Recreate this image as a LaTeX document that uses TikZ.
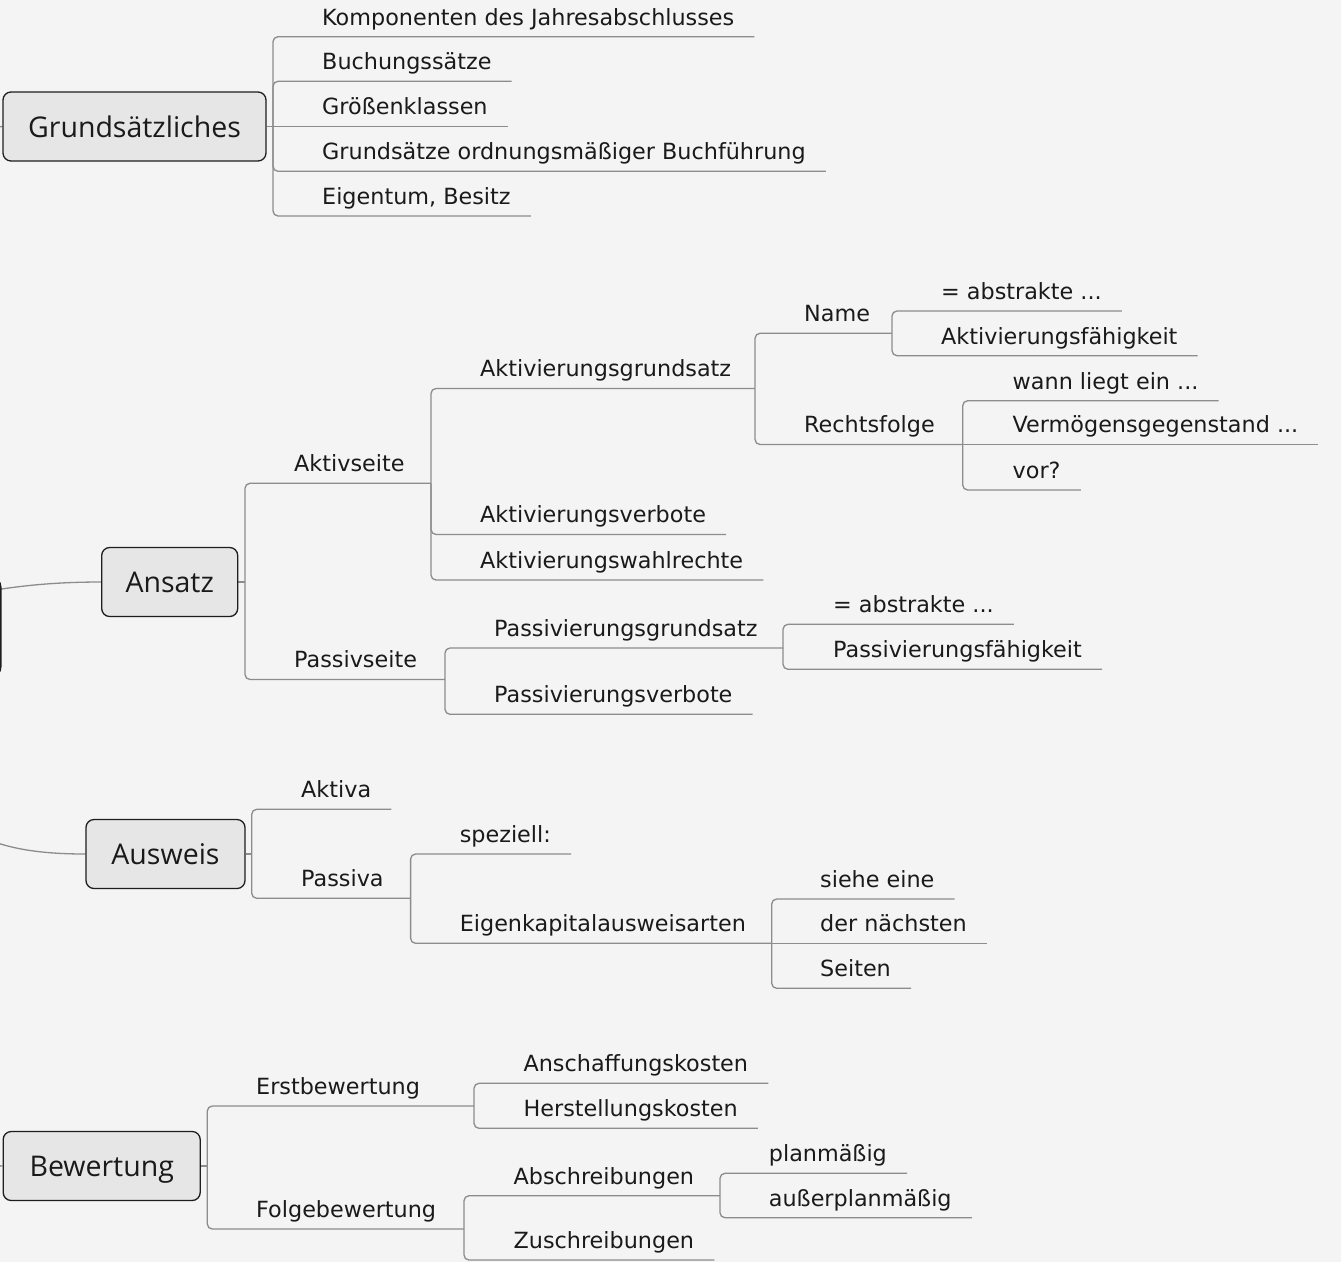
\documentclass[tikz,border=0pt]{standalone}
\usepackage{fontspec}
\newfontfamily\leaffont{DejaVu Sans}
\newfontfamily\topicfont{Open Sans}
\usetikzlibrary{backgrounds}
\definecolor{bgc}{HTML}{F4F4F4}
\definecolor{linec}{HTML}{8C8C8C}
\definecolor{boxfill}{HTML}{E6E6E6}
\definecolor{boxline}{HTML}{1E1E1E}
\definecolor{txt}{HTML}{1A1A1A}
\begin{document}
\begin{tikzpicture}[x=1pt,y=-1pt,
 leaf/.style={font=\leaffont\fontsize{22.3}{26}\selectfont, anchor=south west, inner xsep=20pt, inner ysep=0pt, text height=16pt, text depth=11.5pt, text=txt},
 topic/.style={font=\topicfont\fontsize{28.5}{32}\selectfont, draw=boxline, fill=boxfill, line width=1.3pt, rounded corners=8pt, inner sep=0pt, minimum height=69pt, text height=21pt, text depth=0pt, text=txt},
 conn/.style={draw=linec, line width=1.3pt},
 rc/.style={conn, rounded corners=5pt}]
\useasboundingbox (0,0) rectangle (1341,1262);

% topic boxes
\node[topic, minimum width=300pt, minimum height=100pt, rounded corners=10pt, anchor=east] (root) at (1.5,627) {};
\node[topic, minimum width=263pt] (gr) at (134.5,126.5) {Grundsätzliches};
\node[topic, minimum width=136pt] (an) at (169.7,582) {Ansatz};
\node[topic, minimum width=159pt] (aus) at (165.5,854) {Ausweis};
\node[topic, minimum width=197pt] (bw) at (101.7,1166) {Bewertung};

% Grundsaetzliches
\node[leaf] (k1) at (302,36.7) {Komponenten des Jahresabschlusses};
\node[leaf] (k2) at (302,81.3) {Buchungssätze};
\node[leaf] (k3) at (302,126.5) {Größenklassen};
\node[leaf] (k4) at (302,171.3) {Grundsätze ordnungsmäßiger Buchführung};
\node[leaf] (k5) at (302,216) {Eigentum, Besitz};

% Ansatz
\node[leaf] (akt) at (274,483.3) {Aktivseite};
\node[leaf] (pas) at (274,679.5) {Passivseite};
\node[leaf] (ag) at (460,388.5) {Aktivierungsgrundsatz};
\node[leaf] (av) at (460,534.5) {Aktivierungsverbote};
\node[leaf] (aw) at (460,580) {Aktivierungswahlrechte};
\node[leaf] (name) at (784,333.3) {Name};
\node[leaf] (rf) at (784,444.5) {Rechtsfolge};
\node[leaf] (n1) at (921,311) {= abstrakte ...};
\node[leaf] (n2) at (921,355.7) {Aktivierungsfähigkeit};
\node[leaf] (r1) at (992.5,400.7) {wann liegt ein ...};
\node[leaf] (r2) at (992.5,444.5) {Vermögensgegenstand ...};
\node[leaf] (r3) at (992.5,490) {vor?};
\node[leaf] (pg) at (474,648) {Passivierungsgrundsatz};
\node[leaf] (pv) at (474,714.3) {Passivierungsverbote};
\node[leaf] (p1) at (813,624.3) {= abstrakte ...};
\node[leaf] (p2) at (813,669.3) {Passivierungsfähigkeit};

% Ausweis
\node[leaf] (aa) at (281,809.3) {Aktiva};
\node[leaf] (ap) at (281,898.3) {Passiva};
\node[leaf] (sp) at (439.6,854) {speziell:};
\node[leaf] (ek) at (439.6,943.3) {Eigenkapitalausweisarten};
\node[leaf] (e1) at (800,899) {siehe eine};
\node[leaf] (e2) at (800,943.3) {der nächsten};
\node[leaf] (e3) at (800,988.3) {Seiten};

% Bewertung
\node[leaf] (eb) at (236,1106) {Erstbewertung};
\node[leaf] (fb) at (236,1229) {Folgebewertung};
\node[leaf] (ak) at (503.4,1083.3) {Anschaffungskosten};
\node[leaf] (hk) at (503.4,1128.3) {Herstellungskosten};
\node[leaf] (ab) at (493.4,1195.7) {Abschreibungen};
\node[leaf] (zs) at (493.4,1260) {Zuschreibungen};
\node[leaf] (pm) at (748.7,1173.3) {planmäßig};
\node[leaf] (apm) at (748.7,1217.7) {außerplanmäßig};

% junctions
\coordinate (jgr) at (273,126.5);
\coordinate (jan) at (245,582);
\coordinate (jakt) at (431,483.3);
\coordinate (jag) at (755,388.5);
\coordinate (jname) at (892,333.3);
\coordinate (jrf) at (962.7,444.5);
\coordinate (jpas) at (445,679.5);
\coordinate (jpg) at (783,648);
\coordinate (jaus) at (251.7,854);
\coordinate (jap) at (410.6,898.3);
\coordinate (jek) at (771.7,943.3);
\coordinate (jbw) at (207.3,1166);
\coordinate (jeb) at (474,1106);
\coordinate (jfb) at (464,1229);
\coordinate (jab) at (720,1195.7);

\begin{scope}[on background layer]
\fill[bgc] (0,0) rectangle (1341,1262);
% root connectors
\draw[conn] (root.center) .. controls (-100,300) and (-60,126.5) .. (gr.west);
\draw[conn] (root.center) .. controls (-60,600) and (0,582) .. (an.west);
\draw[conn] (root.center) .. controls (-80,800) and (-60,854) .. (aus.west);
\draw[conn] (root.center) .. controls (-100,900) and (-60,1166) .. (bw.west);
% stubs from boxes
\draw[conn] (gr.east) -- (jgr);
\draw[conn] (an.east) -- (jan);
\draw[conn] (aus.east) -- (jaus);
\draw[conn] (bw.east) -- (jbw);
% connectors to parent nodes, continuing along their underline to their junction
\foreach \j/\c/\k in {jan/akt/jakt, jan/pas/jpas, jakt/ag/jag, jag/name/jname, jag/rf/jrf,
                      jpas/pg/jpg, jaus/ap/jap, jap/ek/jek, jbw/eb/jeb, jbw/fb/jfb, jfb/ab/jab}
  \draw[rc] (\j) |- (\c.south west) -- (\k);
% connectors to leaves, including their underline
\foreach \j/\c in {jgr/k1, jgr/k2, jgr/k4, jgr/k5,
                   jakt/av, jakt/aw, jname/n1, jname/n2, jrf/r1, jrf/r3,
                   jpas/pv, jpg/p1, jpg/p2,
                   jaus/aa, jap/sp, jek/e1, jek/e3,
                   jeb/ak, jeb/hk, jfb/zs, jab/pm, jab/apm}
  \draw[rc] (\j) |- (\c.south east);
\draw[conn] (jgr) -- (k3.south east);
\draw[conn] (jrf) -- (r2.south east);
\draw[conn] (jek) -- (e2.south east);
\end{scope}
\end{tikzpicture}
\end{document}
